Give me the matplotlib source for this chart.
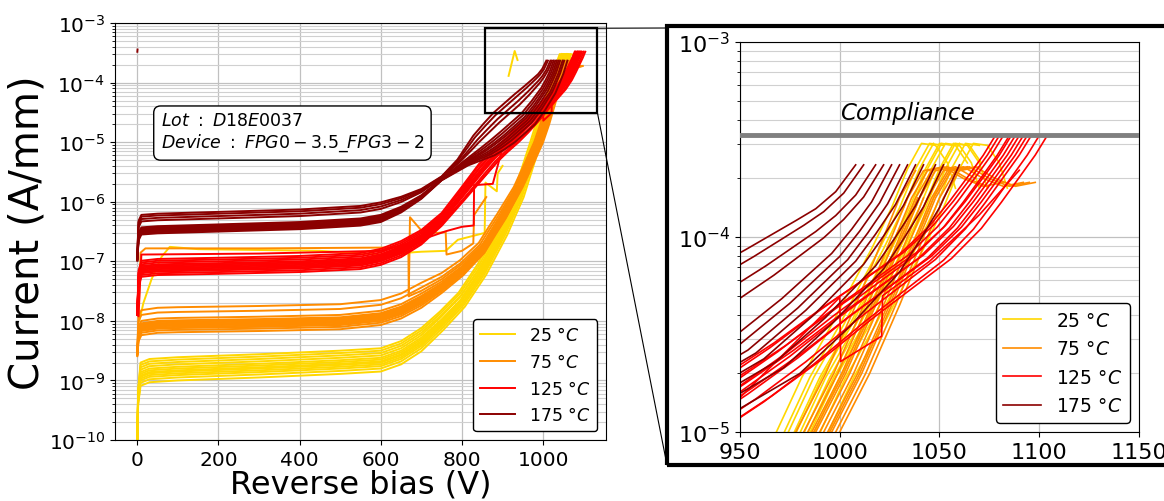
import numpy as np
import matplotlib.pyplot as plt
from matplotlib.patches import Rectangle, ConnectionPatch

labels = ['25 °$C$', '75 °$C$', '125 °$C$', '175 °$C$']
colors = ['#FFD700', '#FF8C00', '#FF0000', '#8B0000']

# each temperature: a middle curve (log10 of A/mm), how much the per-curve level
# offset counts at each knot, and how much the per-curve voltage offset counts
v_25 = [0, 2, 8, 30, 100, 300, 500, 600, 650, 700, 750, 800, 850, 900, 920, 940, 960, 980, 995, 1010, 1020, 1030, 1040, 1048, 1055, 1062, 1068, 1072]
logi_25 = [-10.0, -9.3, -8.92, -8.86, -8.83, -8.78, -8.72, -8.68, -8.56, -8.34, -8.02, -7.66, -7.15, -6.5, -6.2, -5.9, -5.48, -5.05, -4.72, -4.45, -4.25, -4.06, -3.85, -3.65, -3.52, -3.53, -3.62, -3.75]
spread_25 = [0, 0.6, 1, 1, 1, 1, 1, 1, 1, 1, 0.8, 0.6, 0.45, 0.3, 0.2, 0.15, 0.05, 0, 0, 0, 0, 0, 0, 0, 0, 0, 0, 0]
shift_25 = [0, 0, 0, 0, 0, 0, 0, 0, 0, 0, 0.3, 0.6, 0.8, 1, 1, 1, 1, 1, 1, 1, 1, 1, 1, 1, 1, 1, 1, 1]
lvl_25 = [-0.17, -0.12, -0.08, -0.05, -0.02, 0.0, 0.03, 0.06, 0.1, 0.14, 0.18, 0.22]
dv_25 = [12, 8, 5, 3, -2, 0, -5, 2, -8, -4, -10, -14]
end_25 = [1072, 1062, 1055, 1068, 1072, 1048, 1062, 1072, 1055, 1068, 1062, 1072]

v_75 = [0, 3, 10, 50, 100, 300, 500, 600, 650, 700, 750, 800, 850, 875, 900, 920, 940, 965, 990, 1005, 1020, 1032, 1042, 1050, 1060, 1070, 1080, 1090]
logi_75 = [-8.55, -8.2, -8.1, -8.06, -8.05, -8.03, -8.0, -7.93, -7.82, -7.64, -7.42, -7.15, -6.8, -6.52, -6.25, -6.0, -5.75, -5.38, -5.0, -4.7, -4.35, -4.05, -3.8, -3.66, -3.64, -3.7, -3.74, -3.72]
spread_75 = [0.3, 1, 1, 1, 1, 1, 1, 1, 1, 1, 0.8, 0.6, 0.4, 0.3, 0.2, 0.1, 0, 0, 0, 0, 0, 0, 0, 0, 0, 0, 0, 0]
shift_75 = [0, 0, 0, 0, 0, 0, 0, 0, 0, 0, 0, 0.4, 0.7, 0.85, 1, 1, 1, 1, 1, 1, 1, 1, 1, 1, 1, 1, 1, 1]
lvl_75 = [-0.14, -0.1, -0.07, -0.05, -0.03, -0.01, 0.0, 0.02, 0.04, 0.06, 0.1, 0.2, 0.28]
dv_75 = [8, 6, 4, 2, 0, -2, 5, -4, 10, -6, -3, -8, -12]
end_75 = [1090, 1050, 1060, 1090, 1042, 1070, 1090, 1050, 1060, 1080, 1042, 1090, 1050]

v_125 = [0, 3, 10, 50, 200, 400, 550, 600, 650, 700, 750, 800, 850, 875, 900, 925, 950, 975, 1000, 1020, 1040, 1055, 1065, 1075, 1082, 1088]
logi_125 = [-7.9, -7.3, -7.13, -7.1, -7.08, -7.05, -7.0, -6.93, -6.8, -6.6, -6.3, -5.88, -5.45, -5.26, -5.1, -4.95, -4.78, -4.6, -4.4, -4.25, -4.1, -3.95, -3.82, -3.68, -3.58, -3.48]
spread_125 = [0, 1, 1, 1, 1, 1, 1, 1, 1, 0.9, 0.8, 0.7, 0.6, 0.55, 0.5, 0.5, 0.5, 0.4, 0.3, 0.22, 0.15, 0.08, 0.03, 0, 0, 0]
shift_125 = [0, 0, 0, 0, 0, 0, 0, 0, 0, 0, 0, 0.5, 1, 1, 1, 1, 1, 1, 1, 1, 1, 1, 1, 1, 1, 1]
lvl_125 = [-0.13, -0.1, -0.07, -0.05, -0.03, -0.01, 0.01, 0.03, 0.05, 0.08, 0.11, 0.14]
dv_125 = [12, 8, 16, 4, 0, -3, 6, -6, 2, -10, -2, -8]
end_125 = [1088] * 12

v_175 = [0, 3, 10, 50, 200, 400, 550, 600, 650, 700, 750, 800, 825, 850, 875, 900, 925, 950, 975, 1000, 1010, 1020, 1030]
logi_175 = [-6.93, -6.45, -6.35, -6.33, -6.3, -6.26, -6.2, -6.14, -6.02, -5.85, -5.6, -5.33, -5.18, -5.02, -4.86, -4.7, -4.55, -4.4, -4.22, -4.02, -3.92, -3.8, -3.63]
spread_175 = [0.3, 1, 1, 1, 1, 1, 1, 1, 0.8, 0.5, 0.2, 0.3, 0.6, 1, 1.3, 1.5, 1.5, 1.5, 1.2, 0.8, 0.5, 0.25, 0]
shift_175 = [0, 0, 0, 0, 0, 0, 0, 0, 0, 0, 0, 0.5, 0.8, 1, 1, 1, 1, 1, 1, 1, 1, 1, 1]
lvl_175 = [-0.2, -0.18, -0.16, -0.15, -0.13, -0.12, -0.1, -0.08, 0.02, 0.06, 0.1, 0.13]
dv_175 = [30, 22, 18, 12, 8, 4, 0, -4, -8, -12, -18, -22]
end_175 = [1030] * 12

# odd measurements drawn as they are
odd_25_v = [5, 15, 35, 60, 80, 150, 300, 450, 560, 600, 700, 760, 790, 856, 858, 886, 888, 900]
odd_25_i = [1e-8, 2e-8, 5e-8, 1.2e-7, 1.75e-7, 1.6e-7, 1.55e-7, 1.5e-7, 1.35e-7, 1.3e-7, 1.45e-7, 1.5e-7, 2.3e-7, 3e-7, 2.1e-6, 1.5e-6, 3e-6, 4e-6]
spike_25_v = [915, 930, 937]
spike_25_i = [1.3e-4, 3.4e-4, 2.4e-4]
jump_75_v = [3, 8, 20, 300, 600, 668, 669, 700, 750, 800, 850, 900]
jump_75_i = [1.2e-8, 1.4e-7, 1.65e-7, 1.65e-7, 1.7e-7, 1.7e-7, 2.6e-8, 3.2e-8, 5e-8, 9e-8, 1.9e-7, 5.5e-7]
bump_75_v = [669, 672, 700, 740, 760, 762, 800, 828, 830, 860]
bump_75_i = [2.6e-8, 5.5e-7, 3.3e-7, 3e-7, 3.1e-7, 1.3e-7, 1.5e-7, 2e-7, 6e-7, 1.2e-6]
step_125_v = [3, 10, 300, 600, 700, 760, 800, 829, 830, 876, 900]
step_125_i = [1.2e-8, 1.3e-7, 1.35e-7, 1.5e-7, 2.3e-7, 3.2e-7, 3.8e-7, 4e-7, 1.9e-6, 2e-6, 8e-6]
saw_125_v = [950, 975, 1000, 1000.5, 1021, 1021.5, 1045, 1070, 1090]
saw_125_i = [1.5e-5, 2.7e-5, 4.9e-5, 2.3e-5, 3.1e-5, 5e-5, 7.5e-5, 1.3e-4, 2.2e-4]
dot_175_v = [0, 0.5]
dot_175_i = [3.3e-4, 3.6e-4]

compliance = 3.33e-4

groups = [
    (v_25, logi_25, spread_25, shift_25, lvl_25, dv_25, end_25),
    (v_75, logi_75, spread_75, shift_75, lvl_75, dv_75, end_75),
    (v_125, logi_125, spread_125, shift_125, lvl_125, dv_125, end_125),
    (v_175, logi_175, spread_175, shift_175, lvl_175, dv_175, end_175),
]
extras = [
    [(odd_25_v, odd_25_i), (spike_25_v, spike_25_i)],
    [(jump_75_v, jump_75_i), (bump_75_v, bump_75_i)],
    [(step_125_v, step_125_i), (saw_125_v, saw_125_i)],
    [(dot_175_v, dot_175_i)],
]

fig = plt.figure(figsize=(11.64, 5.02), dpi=100)
ax = fig.add_axes([0.0988, 0.1215, 0.4218, 0.8305])
axz = fig.add_axes([0.6357, 0.1375, 0.3428, 0.7768])


def draw(a, lw):
    for k, (v, logi, spread, shift, lvl, dv, end) in enumerate(groups):
        v = np.array(v, float)
        logi = np.array(logi)
        for j in range(len(lvl)):
            keep = v <= end[j]
            vv = v + dv[j] * np.array(shift)
            ii = 10 ** (logi + lvl[j] * np.array(spread))
            a.plot(vv[keep], ii[keep], color=colors[k], lw=lw, label=labels[k] if j == 0 else None)
        for ev, ei in extras[k]:
            a.plot(ev, ei, color=colors[k], lw=lw)


draw(ax, 1.4)
draw(axz, 1.2)

ax.set_yscale('log')
ax.set_xlim(-55, 1155)
ax.set_ylim(1e-10, 1e-3)
ax.set_xticks([0, 200, 400, 600, 800, 1000])
ax.grid(True, which='major', color='#c0c0c0', lw=0.9)
ax.grid(True, which='minor', axis='y', color='#d0d0d0', lw=0.8)
ax.tick_params(labelsize=14.5)
ax.set_xlabel('Reverse bias (V)', fontsize=23, labelpad=0)
ax.set_ylabel('Current (A/mm)', fontsize=29, labelpad=1)
ax.legend(loc='lower right', fontsize=12.5, framealpha=1, edgecolor='black')
ax.text(0.093, 0.79, '$Lot\\ :\\ D18E0037$\n$Device\\ :\\ FPG0-3.5\\_FPG3-2$',
        transform=ax.transAxes, fontsize=12.5, va='top', ha='left',
        bbox=dict(boxstyle='round,pad=0.4', fc='white', ec='black'))

# zoom window in the main plot
ax.add_patch(Rectangle((856, 3.1e-5), 278, 8.2e-4 - 3.1e-5, fill=False, ec='black', lw=1.6, zorder=5))

axz.set_yscale('log')
axz.set_xlim(950, 1150)
axz.set_ylim(1e-5, 1e-3)
axz.set_xticks([950, 1000, 1050, 1100, 1150])
axz.grid(True, which='major', color='#c0c0c0', lw=0.9)
axz.grid(True, which='minor', axis='y', color='#d0d0d0', lw=0.8)
axz.tick_params(labelsize=16)
axz.axhline(compliance, color='gray', lw=3.5, zorder=4)
axz.text(1000, 4.35e-4, 'Compliance', fontsize=16.5, style='italic', ha='left', va='center')
axz.legend(loc='lower right', fontsize=13.5, framealpha=1, edgecolor='black')

# frame around the zoom and the connecting lines
fig.add_artist(Rectangle((667 / 1164, 1 - 466 / 502), 0.6, (466 - 27) / 502,
                         transform=fig.transFigure, fill=False, ec='black', lw=3))
for ya, yb in [(8.2e-4, 1 - 29 / 502), (3.1e-5, 1 - 466 / 502)]:
    fig.add_artist(ConnectionPatch(xyA=(1134, ya), coordsA='data', axesA=ax,
                                   xyB=(667 / 1164, yb), coordsB='figure fraction',
                                   color='black', lw=0.8))

fig.savefig('out.png', dpi=100)
